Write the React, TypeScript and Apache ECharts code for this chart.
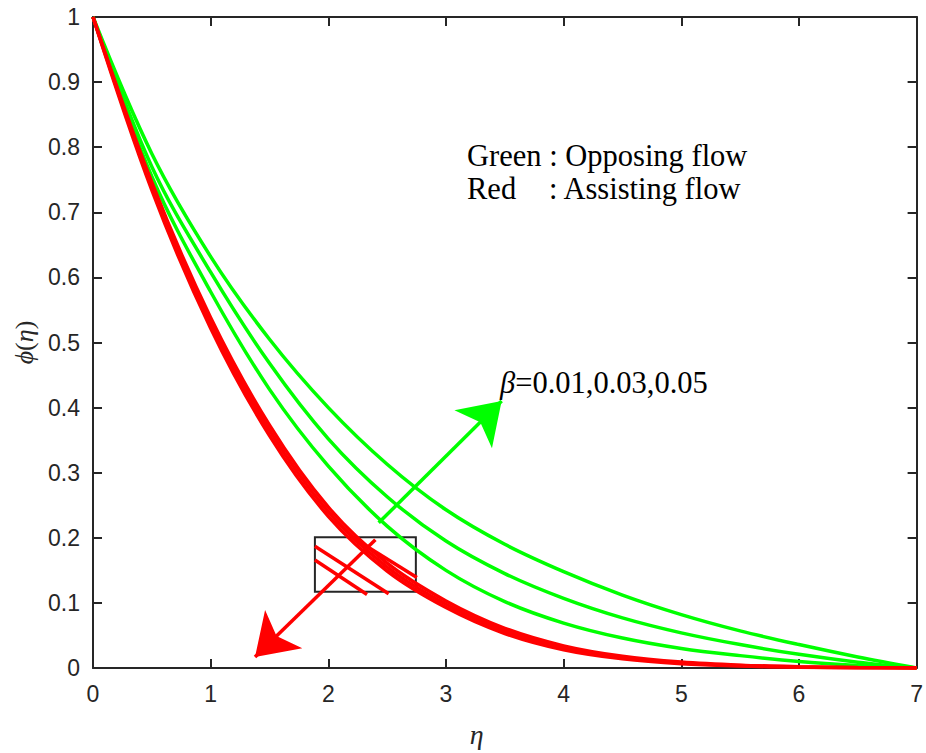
import React, { useEffect, useRef } from "react";
import * as echarts from "echarts";

// eta grid
const etaValues = [0, 0.5, 1, 1.5, 2, 2.5, 3, 3.5, 4, 4.5, 5, 5.5, 6, 6.5, 7];

// Opposing flow (green), beta = 0.01, 0.03, 0.05
const greenBeta1 = [1, 0.755, 0.578, 0.428, 0.31, 0.218, 0.15, 0.102, 0.069, 0.046, 0.03, 0.019, 0.01, 0.004, 0];
const greenBeta2 = [1, 0.77, 0.608, 0.468, 0.352, 0.263, 0.195, 0.145, 0.107, 0.077, 0.054, 0.036, 0.021, 0.009, 0];
const greenBeta3 = [1, 0.79, 0.632, 0.505, 0.40, 0.313, 0.243, 0.19, 0.148, 0.112, 0.082, 0.057, 0.036, 0.017, 0];

// Assisting flow (red), beta = 0.01, 0.03, 0.05 (nearly overlapping)
const redBeta1 = [1, 0.746, 0.538, 0.373, 0.247, 0.161, 0.103, 0.061, 0.034, 0.018, 0.0091, 0.0044, 0.002, 0.0006, 0];
const redBeta2 = [1, 0.74, 0.53, 0.365, 0.24, 0.155, 0.098, 0.057, 0.031, 0.016, 0.0078, 0.0037, 0.0016, 0.0005, 0];
const redBeta3 = [1, 0.734, 0.522, 0.357, 0.233, 0.149, 0.093, 0.053, 0.028, 0.014, 0.0065, 0.003, 0.0012, 0.0004, 0];

// annotations (data coordinates)
const zoomBox = [[1.886, 0.117], [2.744, 0.201]];
const zoomSegments = [
  [[2.202, 0.201], [2.753, 0.139]],
  [[1.886, 0.187], [2.513, 0.114]],
  [[1.886, 0.166], [2.329, 0.113]],
];
const greenArrow = [[2.428, 0.223], [3.473, 0.41]];
const redArrow = [[2.4, 0.197], [1.377, 0.017]];

const xTicks = { min: 0, max: 7, interval: 1 };
const yTicks = { min: 0, max: 1, interval: 0.1 };

const AXIS = "#262626";
const GREEN = "#00ff00";
const RED = "#ff0000";
const SERIF = "'Liberation Serif', 'Times New Roman', serif";

function pairs(xs: number[], ys: number[]) {
  return xs.map((x, i) => [x, ys[i]]);
}

export default function App() {
  const ref = useRef<HTMLDivElement>(null);
  useEffect(() => {
    const chart = echarts.init(ref.current!, null, { renderer: "svg" });
    const axisCommon = {
      type: "value" as const,
      axisLine: { show: true, onZero: false, lineStyle: { color: AXIS, width: 2 } },
      axisTick: { show: true, inside: true, length: 9, lineStyle: { color: AXIS, width: 2 } },
      splitLine: { show: false },
    };
    const labelStyle = { color: AXIS, fontFamily: "Liberation Sans, Arial", fontSize: 23 };
    const curve = (name: string, ys: number[], color: string, width: number) => ({
      name,
      type: "line" as const,
      data: pairs(etaValues, ys),
      smooth: 0.35,
      showSymbol: false,
      symbol: "none",
      lineStyle: { color, width },
      z: 2,
    });
    chart.setOption({
      animation: false,
      grid: { left: 93, right: 5, top: 17, bottom: 83, containLabel: false },
      xAxis: [
        {
          ...axisCommon,
          ...xTicks,
          position: "bottom",
          axisLabel: { ...labelStyle, margin: 14 },
          name: "η",
          nameLocation: "middle",
          nameGap: 52,
          nameTextStyle: { fontFamily: SERIF, fontStyle: "italic", fontSize: 28, color: AXIS, padding: [0, 56, 0, 0] },
        },
        { ...axisCommon, ...xTicks, position: "top", axisLabel: { show: false } },
      ],
      yAxis: [
        {
          ...axisCommon,
          ...yTicks,
          position: "left",
          axisLabel: { ...labelStyle, margin: 13 },
          name: "{i|ϕ}({i|η})",
          nameLocation: "middle",
          nameGap: 50,
          nameRotate: 90,
          nameTextStyle: {
            fontFamily: SERIF,
            fontSize: 26,
            color: AXIS,
            rich: { i: { fontFamily: SERIF, fontStyle: "italic", fontSize: 26, color: AXIS } },
          },
        },
        { ...axisCommon, ...yTicks, position: "right", axisLabel: { show: false } },
      ],
      series: [
        curve("Opposing β=0.05", greenBeta3, GREEN, 3.5),
        curve("Opposing β=0.03", greenBeta2, GREEN, 3.5),
        curve("Opposing β=0.01", greenBeta1, GREEN, 3.5),
        curve("Assisting β=0.01", redBeta1, RED, 3.5),
        curve("Assisting β=0.03", redBeta2, RED, 3.5),
        {
          ...curve("Assisting β=0.05", redBeta3, RED, 3.5),
          markArea: {
            silent: true,
            itemStyle: { color: "rgba(0,0,0,0)", borderColor: AXIS, borderWidth: 2 },
            data: [[{ coord: zoomBox[0] }, { coord: zoomBox[1] }]],
          },
        },
        {
          type: "lines",
          coordinateSystem: "cartesian2d",
          polyline: false,
          symbol: ["none", "none"],
          lineStyle: { color: RED, width: 3.5, opacity: 1 },
          data: zoomSegments.map((c) => ({ coords: c })),
          z: 5,
        },
        {
          type: "lines",
          coordinateSystem: "cartesian2d",
          symbol: ["none", "arrow"],
          symbolSize: [20, 40],
          lineStyle: { color: GREEN, width: 3.5, opacity: 1 },
          itemStyle: { color: GREEN },
          data: [{ coords: greenArrow }],
          z: 6,
        },
        {
          type: "lines",
          coordinateSystem: "cartesian2d",
          symbol: ["none", "arrow"],
          symbolSize: [20, 40],
          lineStyle: { color: RED, width: 3.5, opacity: 1 },
          itemStyle: { color: RED },
          data: [{ coords: redArrow }],
          z: 6,
        },
      ],
      graphic: [
        {
          type: "text",
          left: 467,
          top: 140,
          style: { text: "Green : Opposing flow", font: `30.5px ${SERIF}`, fill: "#000" },
        },
        {
          type: "text",
          left: 467,
          top: 173,
          style: { text: "Red", font: `30.5px ${SERIF}`, fill: "#000" },
        },
        {
          type: "text",
          left: 549,
          top: 173,
          style: { text: ": Assisting flow", font: `30.5px ${SERIF}`, fill: "#000" },
        },
        {
          type: "text",
          left: 500,
          top: 367,
          style: {
            text: "{i|β}=0.01,0.03,0.05",
            font: `30.5px ${SERIF}`,
            fill: "#000",
            rich: { i: { fontStyle: "italic", fontSize: 30.5, fontFamily: SERIF, fill: "#000" } },
          },
        },
      ],
    });
    return () => chart.dispose();
  }, []);
  return <div ref={ref} style={{ position: "fixed", left: 0, top: 0, width: 926, height: 753, background: "#fff" }} />;
}
